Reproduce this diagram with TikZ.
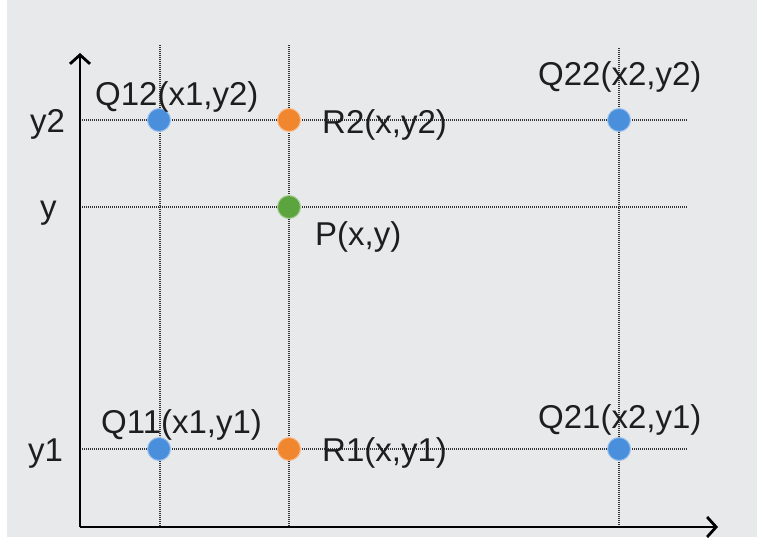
\documentclass[tikz,border=0pt]{standalone}
\usepackage{fontspec}
\setmainfont{Liberation Sans}
\usetikzlibrary{arrows.meta}
\definecolor{bg}{HTML}{E8E9EB}
\definecolor{dotblue}{HTML}{4A8FDB}
\definecolor{dotorange}{HTML}{F0862E}
\definecolor{dotgreen}{HTML}{5CA43E}
\definecolor{txt}{HTML}{1E1E1E}
\tikzset{
  grid line/.style={draw=black!80, line width=1.3pt, dash pattern=on 1pt off 1pt},
  axis line/.style={draw=black, line width=2.8pt, -{Straight Barb[length=9pt,width=20pt,line width=2.8pt]}},
  pt/.style={circle, minimum size=23pt, inner sep=0pt, draw=#1!55!white, line width=1pt, fill=#1},
  lbl/.style={anchor=base west, inner sep=0pt, text=txt, font=\fontsize{33}{37}\selectfont},
}
\begin{document}
\begin{tikzpicture}[x=1pt, y=-1pt]
\useasboundingbox (0,0) rectangle (765,544);
\fill[white] (0,0) rectangle (765,544);
\fill[bg] (7,0) rectangle (757,537);
% grid ends
\coordinate (x1t) at (160,45);
\coordinate (x1b) at (160,527);
\coordinate (xt) at (289,45);
\coordinate (xb) at (289,527);
\coordinate (x2t) at (619,48);
\coordinate (x2b) at (619,527);
\coordinate (y2l) at (80,120);
\coordinate (y2r) at (688,120);
\coordinate (yl) at (80,207);
\coordinate (yr) at (688,207);
\coordinate (y1l) at (80,449);
\coordinate (y1r) at (688,449);
\draw[grid line] (x1t) -- (x1b);
\draw[grid line] (xt) -- (xb);
\draw[grid line] (x2t) -- (x2b);
\draw[grid line] (y2l) -- (y2r);
\draw[grid line] (yl) -- (yr);
\draw[grid line] (y1l) -- (y1r);
% axes
\coordinate (o) at (80,527);
\coordinate (ytip) at (80,53);
\coordinate (xtip) at (718,527);
\draw[axis line] (o) -- (ytip);
\draw[axis line] (o) -- (xtip);
% points
\node[pt=dotblue] (Q12) at (159,120) {};
\node[pt=dotorange] (R2) at (289,120) {};
\node[pt=dotgreen] (P) at (289,207) {};
\node[pt=dotblue] (Q22) at (619,120) {};
\node[pt=dotblue] (Q11) at (159,449) {};
\node[pt=dotorange] (R1) at (289,449) {};
\node[pt=dotblue] (Q21) at (619,449) {};
% labels
\node[lbl] (lQ12) at (95,105) {Q12(x1,y2)};
\node[lbl] (lR2) at (322,133) {R2(x,y2)};
\node[lbl] (lQ22) at (538,85) {Q22(x2,y2)};
\node[lbl] (ly2) at (30,132) {y2};
\node[lbl] (ly) at (40,218) {y};
\node[lbl] (lP) at (315,245) {P(x,y)};
\node[lbl] (lQ11) at (101,433) {Q11(x1,y1)};
\node[lbl] (lR1) at (322,461) {R1(x,y1)};
\node[lbl] (lQ21) at (538,428) {Q21(x2,y1)};
\node[lbl] (ly1) at (28,461) {y1};
\end{tikzpicture}
\end{document}
